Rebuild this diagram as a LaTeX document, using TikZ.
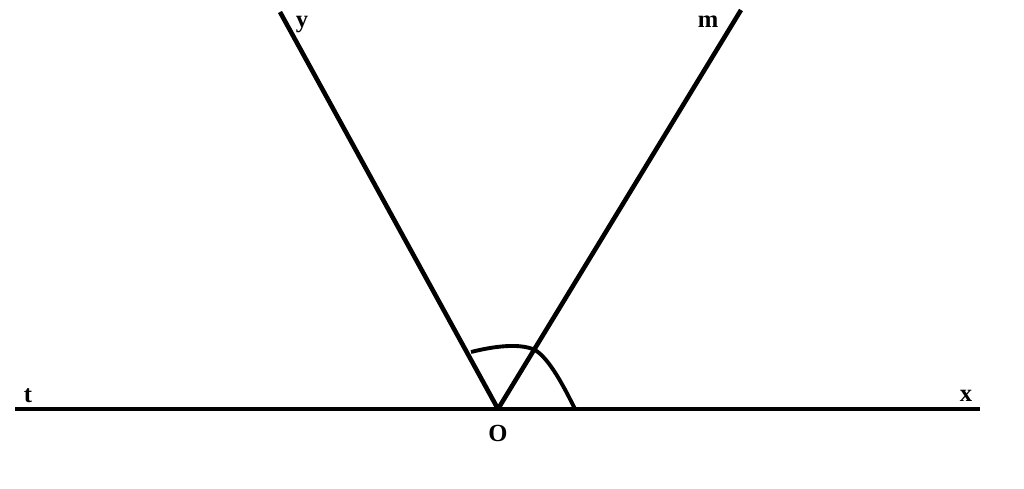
\documentclass[tikz,border=0pt]{standalone}
\usepackage{fontspec}
\setmainfont{Liberation Serif}
\usepackage{tikz}

\begin{document}
\begin{tikzpicture}[line width=2.6pt,
    lbl/.style={font=\bfseries\fontsize{14}{16}\selectfont, inner sep=0pt}]
          \useasboundingbox (0,0) rectangle (20.48,9.78);

          \coordinate (O) at (9.96,1.6);
          \coordinate (t) at (0.3,1.6);
          \coordinate (x) at (19.6,1.6);
          \coordinate (y) at (5.6,9.54);
          \coordinate (m) at (14.82,9.58);

          \draw (t) -- (x);
          \draw (O) -- (y);
          \draw (O) -- (m);

          % angle mark
          \coordinate (arcS) at (9.42,2.74);
          \coordinate (arcE) at (11.5,1.6);
          \draw[line width=2.2pt] (arcS) .. controls (9.9,2.86) and (10.4,2.92) .. (10.7,2.78)
                .. controls (11.0,2.6) and (11.3,2.0) .. (arcE);

          \node[lbl] (lt) at (0.56,1.86) {t};
          \node[lbl] (lx) at (19.32,1.86) {x};
          \node[lbl] (ly) at (6.04,9.28) {y};
          \node[lbl] (lm) at (14.16,9.34) {m};
          \node[lbl] (lO) at (9.96,1.12) {O};
        \end{tikzpicture}
\end{document}
